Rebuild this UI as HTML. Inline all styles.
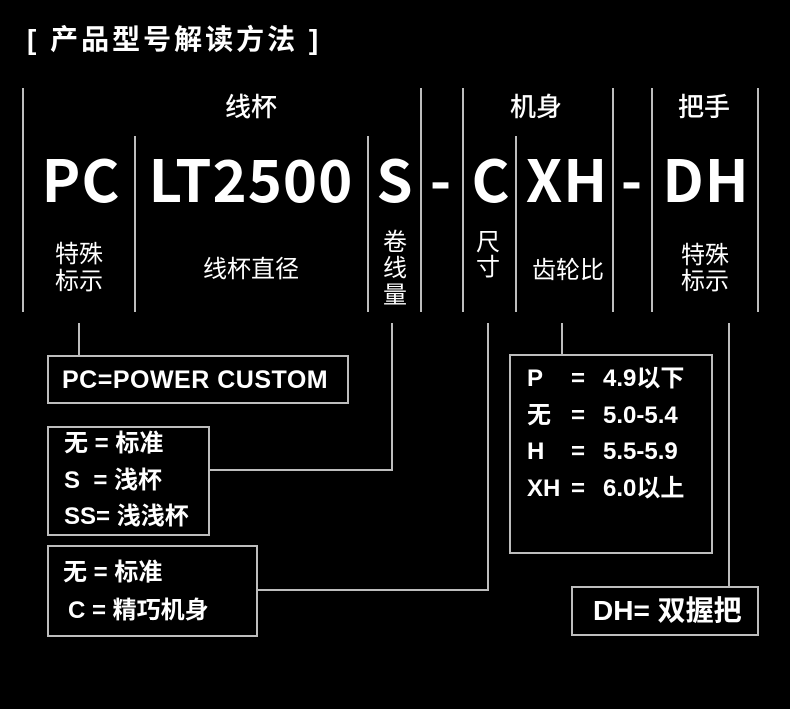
<!DOCTYPE html>
<html><head><meta charset="utf-8"><style>
html,body{margin:0;padding:0;background:#000;}
#c{position:relative;width:790px;height:709px;overflow:hidden;background:#000;font-family:"Liberation Sans","Noto Sans CJK SC",sans-serif;color:#fff;}
.t{position:absolute;transform:translate(-50%,-50%);white-space:nowrap;line-height:1;}
.big{font-family:"Noto Sans CJK SC","Liberation Sans",sans-serif;font-weight:bold;font-size:58px;letter-spacing:1px;}
.md{font-family:"Liberation Sans","Noto Sans CJK SC",sans-serif;font-size:26px;font-weight:500;}
.sm{font-family:"Liberation Sans","Noto Sans CJK SC",sans-serif;font-size:24px;}
.v{position:absolute;width:2px;background:#bdbdbd;}
.h{position:absolute;height:2px;background:#bdbdbd;}
.b{position:absolute;border:2px solid #bdbdbd;box-sizing:border-box;}
.bt{position:absolute;white-space:nowrap;font-size:24px;line-height:1;font-family:"Liberation Sans","Noto Sans CJK SC",sans-serif;}
</style></head><body><div id="c">
<div style="position:absolute;left:27px;top:18px;font-size:28px;font-weight:bold;letter-spacing:3px;font-family:'Liberation Sans','Noto Sans CJK SC',sans-serif;">[ 产品型号解读方法 ]</div>

<div class="v" style="left:22px;top:88px;height:224px"></div>
<div class="v" style="left:134px;top:136px;height:176px"></div>
<div class="v" style="left:367px;top:136px;height:176px"></div>
<div class="v" style="left:420px;top:88px;height:224px"></div>
<div class="v" style="left:462px;top:88px;height:224px"></div>
<div class="v" style="left:515px;top:136px;height:176px"></div>
<div class="v" style="left:612px;top:88px;height:224px"></div>
<div class="v" style="left:651px;top:88px;height:224px"></div>
<div class="v" style="left:757px;top:88px;height:224px"></div>

<div class="t md" style="left:251px;top:107px">线杯</div>
<div class="t md" style="left:536px;top:107px">机身</div>
<div class="t md" style="left:704px;top:107px">把手</div>

<div class="t big" style="left:81px;top:177px">PC</div>
<div class="t big" style="left:251px;top:177px">LT2500</div>
<div class="t big" style="left:395px;top:177px">S</div>
<div class="t big" style="left:441px;top:177px">-</div>
<div class="t big" style="left:491px;top:177px">C</div>
<div class="t big" style="left:567px;top:177px">XH</div>
<div class="t big" style="left:632px;top:177px">-</div>
<div class="t big" style="left:706px;top:177px">DH</div>

<div class="t sm" style="left:79px;top:255px">特殊</div>
<div class="t sm" style="left:79px;top:282px">标示</div>
<div class="t sm" style="left:251px;top:270px">线杯直径</div>
<div class="t sm" style="left:395px;top:243px">卷</div>
<div class="t sm" style="left:395px;top:269px">线</div>
<div class="t sm" style="left:395px;top:296px">量</div>
<div class="t sm" style="left:488px;top:243px">尺</div>
<div class="t sm" style="left:488px;top:268px">寸</div>
<div class="t sm" style="left:568px;top:271px">齿轮比</div>
<div class="t sm" style="left:705px;top:256px">特殊</div>
<div class="t sm" style="left:705px;top:282px">标示</div>

<div class="v" style="left:78px;top:323px;height:33px"></div>
<div class="v" style="left:391px;top:323px;height:148px"></div>
<div class="h" style="left:208px;top:469px;width:185px"></div>
<div class="v" style="left:487px;top:323px;height:268px"></div>
<div class="h" style="left:256px;top:589px;width:233px"></div>
<div class="v" style="left:561px;top:323px;height:33px"></div>
<div class="v" style="left:728px;top:323px;height:265px"></div>

<div class="b" style="left:47px;top:355px;width:302px;height:49px"></div>
<div class="bt" style="left:62px;top:368px;font-size:25px;font-weight:bold;letter-spacing:0.5px;">PC=POWER CUSTOM</div>

<div class="b" style="left:47px;top:426px;width:163px;height:110px"></div>
<div class="bt" style="left:64px;top:432px;font-weight:bold;">无 = 标准</div>
<div class="bt" style="left:64px;top:469px;font-weight:bold;">S&nbsp; = 浅杯</div>
<div class="bt" style="left:64px;top:505px;font-weight:bold;">SS= 浅浅杯</div>

<div class="b" style="left:47px;top:545px;width:211px;height:92px"></div>
<div class="bt" style="left:63px;top:561px;font-weight:bold;">无 = 标准</div>
<div class="bt" style="left:68px;top:599px;font-weight:bold;">C = 精巧机身</div>

<div class="b" style="left:509px;top:354px;width:204px;height:200px"></div>
<div class="bt" style="left:527px;top:367px;font-weight:bold;">P</div>
<div class="bt" style="left:527px;top:404px;font-weight:bold;">无</div>
<div class="bt" style="left:527px;top:440px;font-weight:bold;">H</div>
<div class="bt" style="left:527px;top:477px;font-weight:bold;">XH</div>
<div class="bt" style="left:571px;top:367px;font-weight:bold;">=</div>
<div class="bt" style="left:571px;top:404px;font-weight:bold;">=</div>
<div class="bt" style="left:571px;top:440px;font-weight:bold;">=</div>
<div class="bt" style="left:571px;top:477px;font-weight:bold;">=</div>
<div class="bt" style="left:603px;top:367px;font-weight:bold;">4.9以下</div>
<div class="bt" style="left:603px;top:404px;font-weight:bold;">5.0-5.4</div>
<div class="bt" style="left:603px;top:440px;font-weight:bold;">5.5-5.9</div>
<div class="bt" style="left:603px;top:477px;font-weight:bold;">6.0以上</div>

<div class="b" style="left:571px;top:586px;width:188px;height:50px"></div>
<div class="bt" style="left:593px;top:597px;font-size:28px;font-weight:bold;">DH= 双握把</div>
</div></body></html>
